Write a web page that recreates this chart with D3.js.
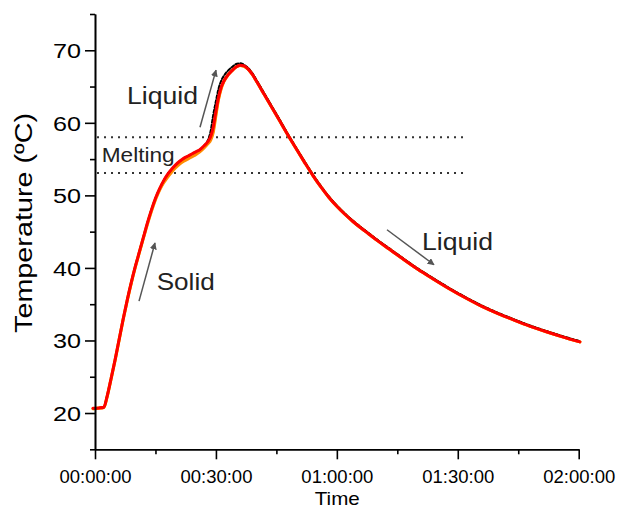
<!DOCTYPE html>
<html>
<head>
<meta charset="utf-8">
<script src="https://cdn.jsdelivr.net/npm/d3@7"></script>
<style>
  html, body { margin: 0; padding: 0; background: #fff; }
  svg { display: block; font-family: "Liberation Sans", Arial, sans-serif; }
</style>
</head>
<body>
<svg id="chart" width="617" height="509"></svg>
<script>
// Elapsed time in minutes, shared by all four thermocouple traces
const timeMin = [-0.5, 1, 2.2, 3, 4, 5, 6, 7, 8, 9, 10, 11, 12, 13, 14, 15, 16, 17, 18, 19, 20,
  21, 22, 23, 24, 25, 26, 27, 28, 28.7, 29.3, 30, 30.6, 31.3, 32, 33, 34, 35, 36, 37, 38, 39, 40,
  42, 44, 46, 48, 50, 52, 54, 56, 58, 60, 62, 64, 66, 68, 70, 73, 76, 80, 84, 88, 92, 96, 100,
  104, 108, 112, 116, 120.3];

// Temperatures (°C) of each sensor
const tempT1 = [20.65, 20.7, 20.8, 22.3, 24.8, 27.4, 30.2, 33.0, 35.6, 38.0, 40.2, 42.2, 44.2, 46.2,
  48.0, 49.6, 50.9, 52.0, 52.9, 53.6, 54.2, 54.7, 55.1, 55.4, 55.7, 56.0, 56.3, 56.8, 57.4, 58.1,
  59.3, 61.6, 63.4, 64.9, 65.8, 66.6, 67.2, 67.7, 67.95, 67.85, 67.4, 66.7, 65.8, 63.9, 62.0, 60.1,
  58.2, 56.35, 54.55, 52.8, 51.2, 49.75, 48.5, 47.4, 46.4, 45.5, 44.65, 43.8, 42.6, 41.4, 39.85, 38.45,
  37.1, 35.85, 34.7, 33.7, 32.8, 31.95, 31.2, 30.5, 29.8];
const tempT2 = [20.6, 20.65, 20.75, 22.2, 24.7, 27.3, 30.1, 32.9, 35.5, 37.9, 40.1, 42.1, 44.1, 46.0,
  47.8, 49.4, 50.7, 51.7, 52.5, 53.2, 53.8, 54.3, 54.7, 55.0, 55.3, 55.6, 56.0, 56.5, 57.1, 57.6,
  58.6, 61.0, 63.1, 64.7, 65.7, 66.6, 67.2, 67.7, 67.9, 67.8, 67.4, 66.7, 65.8, 63.9, 62.0, 60.1,
  58.2, 56.35, 54.55, 52.8, 51.2, 49.75, 48.5, 47.4, 46.4, 45.5, 44.65, 43.8, 42.6, 41.4, 39.85, 38.45,
  37.1, 35.85, 34.7, 33.7, 32.8, 31.95, 31.2, 30.5, 29.8];
const tempT3 = [20.6, 20.7, 20.8, 22.25, 24.75, 27.35, 30.15, 32.95, 35.55, 37.95, 40.15, 42.15, 44.15,
  46.1, 47.9, 49.5, 50.8, 51.85, 52.7, 53.4, 54.0, 54.5, 54.9, 55.2, 55.5, 55.8, 56.15, 56.65, 57.25,
  57.85, 58.9, 61.3, 63.2, 64.8, 65.75, 66.6, 67.2, 67.7, 67.9, 67.8, 67.4, 66.7, 65.8, 63.9, 62.0,
  60.1, 58.2, 56.35, 54.55, 52.8, 51.2, 49.75, 48.5, 47.4, 46.4, 45.5, 44.65, 43.8, 42.6, 41.4, 39.85,
  38.45, 37.1, 35.85, 34.7, 33.7, 32.8, 31.95, 31.2, 30.5, 29.8];
const tempT4 = [20.65, 20.7, 20.8, 22.3, 24.8, 27.4, 30.2, 33.0, 35.6, 38.0, 40.2, 42.2, 44.2, 46.2,
  48.0, 49.6, 50.9, 52.0, 52.9, 53.6, 54.2, 54.7, 55.1, 55.4, 55.7, 56.0, 56.3, 56.8, 57.6, 58.9,
  61.0, 63.0, 64.6, 65.8, 66.5, 67.2, 67.7, 68.1, 68.2, 68.0, 67.55, 66.85, 65.95, 64.05, 62.15, 60.25,
  58.3, 56.45, 54.65, 52.9, 51.3, 49.85, 48.6, 47.5, 46.5, 45.6, 44.75, 43.9, 42.7, 41.5, 39.95, 38.55,
  37.2, 35.95, 34.8, 33.8, 32.9, 32.05, 31.3, 30.6, 29.9];

// Axis ticks
const xMajorTicks = [0, 30, 60, 90, 120];
const xMinorTicks = [15, 45, 75, 105];
const yMajorTicks = [20, 30, 40, 50, 60, 70];
const yMinorTicks = [15, 25, 35, 45, 55, 65, 75];

// Melting range boundaries (°C) and the time span they are drawn over
const meltBounds = [58.0, 53.1];
const meltSpan = [0.5, 92.5];

// Phase labels: [time, temperature, text, font size, text length]
const phaseLabels = [
  [7.94, 62.56, "Liquid", 23, 71],
  [1.66, 54.64, "Melting", 20, 73],
  [15.31, 36.94, "Solid", 24, 58],
  [81.12, 42.5, "Liquid", 23, 71]
];
// Direction arrows: [tailTime, tailTemp, tipTime, tipTemp]
const phaseArrows = [
  [10.92, 35.43, 14.88, 43.43],
  [26.05, 59.4, 30.02, 67.26],
  [72.44, 45.26, 84.1, 40.44]
];

const svg = d3.select("#chart");
const x = d3.scaleLinear().domain([0, 120]).range([95, 578.7]);
const y = d3.scaleLinear().domain([15, 75]).range([449.3, 14]);

const fmtTime = m => {
  const h = Math.floor(m / 60), mm = Math.round(m % 60);
  return String(h).padStart(2, "0") + ":" + String(mm).padStart(2, "0") + ":00";
};

// Arrow head marker
svg.append("defs").append("marker")
  .attr("id", "head")
  .attr("viewBox", "0 0 10 10")
  .attr("refX", 9).attr("refY", 5)
  .attr("markerWidth", 7).attr("markerHeight", 7)
  .attr("markerUnits", "userSpaceOnUse")
  .attr("orient", "auto")
  .append("path").attr("d", "M0,0 L10,5 L0,10 Z").attr("fill", "#555");

// Melting range dotted lines
meltBounds.forEach(v => {
  svg.append("line")
    .attr("x1", x(meltSpan[0])).attr("x2", x(meltSpan[1]))
    .attr("y1", y(v)).attr("y2", y(v))
    .attr("stroke", "#333").attr("stroke-width", 2)
    .attr("stroke-dasharray", "2,5");
});

// Temperature traces
const pts = vals => timeMin.map((t, i) => [t, vals[i]]);
const line = d3.line().x(d => x(d[0])).y(d => y(d[1])).curve(d3.curveMonotoneX);
const traces = [
  { vals: tempT3, color: "#f5d000", width: 3, dash: null },
  { vals: tempT2, color: "#ff8c00", width: 3, dash: null },
  { vals: tempT4, color: "#000", width: 2, dash: "3,2" },
  { vals: tempT1, color: "#ff0000", width: 3, dash: null }
];
traces.forEach(s => {
  svg.append("path")
    .attr("d", line(pts(s.vals)))
    .attr("fill", "none")
    .attr("stroke", s.color)
    .attr("stroke-width", s.width)
    .attr("stroke-linejoin", "round")
    .attr("stroke-linecap", "round")
    .attr("stroke-dasharray", s.dash);
});

// Axes
const axisStyle = g => {
  g.select(".domain").attr("stroke", "#000").attr("stroke-width", 1.6);
  g.selectAll(".tick line").attr("stroke", "#000").attr("stroke-width", 1.6);
};
const xAxisG = svg.append("g").attr("transform", "translate(0,449.3)");
xAxisG.append("g").call(d3.axisBottom(x).tickValues(xMinorTicks).tickSize(5).tickSizeOuter(0).tickFormat(""))
  .call(axisStyle);
xAxisG.append("g").call(d3.axisBottom(x).tickValues(xMajorTicks).tickSize(10).tickSizeOuter(0).tickFormat(fmtTime))
  .call(axisStyle)
  .call(g => g.selectAll(".tick text")
    .attr("y", 21).attr("dy", "0.71em")
    .attr("fill", "#000")
    .style("font-size", "18.5px")
    .style("font-family", "'Liberation Sans', Arial, sans-serif"));

const yAxisG = svg.append("g").attr("transform", "translate(95,0)");
yAxisG.append("g").call(d3.axisLeft(y).tickValues(yMinorTicks).tickSize(5).tickSizeOuter(0).tickFormat(""))
  .call(axisStyle);
yAxisG.append("g").call(d3.axisLeft(y).tickValues(yMajorTicks).tickSize(10).tickSizeOuter(0))
  .call(axisStyle)
  .call(g => g.selectAll(".tick text")
    .attr("x", -14).attr("dy", "0.35em")
    .attr("fill", "#000")
    .attr("textLength", 28)
    .attr("lengthAdjust", "spacingAndGlyphs")
    .style("font-size", "20.5px")
    .style("font-family", "'Liberation Sans', Arial, sans-serif"));

// Axis titles
svg.append("text")
  .attr("x", 337.3).attr("y", 505)
  .attr("text-anchor", "middle")
  .attr("textLength", 45).attr("lengthAdjust", "spacingAndGlyphs")
  .style("font-size", "18.6px").attr("fill", "#000")
  .text("Time");
svg.append("text")
  .attr("transform", "translate(32,223) rotate(-90)")
  .attr("text-anchor", "middle")
  .attr("textLength", 220).attr("lengthAdjust", "spacingAndGlyphs")
  .style("font-size", "23.3px").attr("fill", "#000")
  .text("Temperature (ºC)");

// Phase annotations
phaseLabels.forEach(([t, v, txt, fs, len]) => {
  svg.append("text")
    .attr("x", x(t)).attr("y", y(v))
    .attr("textLength", len).attr("lengthAdjust", "spacingAndGlyphs")
    .style("font-size", fs + "px").attr("fill", "#222")
    .text(txt);
});
phaseArrows.forEach(([t0, v0, t1, v1]) => {
  svg.append("line")
    .attr("x1", x(t0)).attr("y1", y(v0))
    .attr("x2", x(t1)).attr("y2", y(v1))
    .attr("stroke", "#555").attr("stroke-width", 1.5)
    .attr("marker-end", "url(#head)");
});
</script>
</body>
</html>
